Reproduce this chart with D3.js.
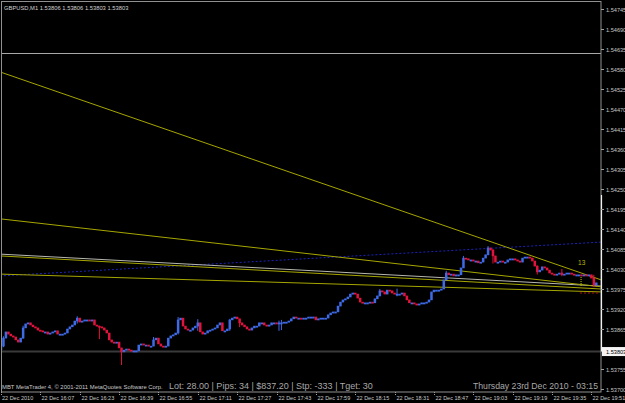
<!DOCTYPE html>
<html><head><meta charset="utf-8">
<script src="https://cdn.jsdelivr.net/npm/d3@7"></script>
<style>html,body{margin:0;padding:0;background:#000;overflow:hidden}</style>
</head><body><svg id="c" width="625" height="403"></svg>
<script>
// ---------- DATA ----------
const symbolHeader = "GBPUSD,M1  1.53806 1.53806 1.53803 1.53803";
const firstOpen = 1.53808;
const closes = [
1.53818,1.53840,1.53857,1.53851,1.53846,1.53843,1.53835,1.53829,1.53840,1.53868,
1.53879,1.53882,1.53876,1.53871,1.53868,1.53862,1.53860,1.53857,1.53857,1.53851,
1.53854,1.53857,1.53860,1.53851,1.53851,1.53851,1.53854,1.53865,1.53871,1.53876,
1.53887,1.53895,1.53884,1.53887,1.53890,1.53890,1.53887,1.53890,1.53876,1.53873,
1.53871,1.53868,1.53862,1.53854,1.53835,1.53829,1.53827,1.53829,1.53813,1.53802,
1.53807,1.53810,1.53807,1.53805,1.53805,1.53805,1.53821,1.53824,1.53821,1.53821,
1.53818,1.53818,1.53835,1.53840,1.53824,1.53818,1.53816,1.53818,1.53840,1.53846,
1.53849,1.53854,1.53890,1.53895,1.53873,1.53865,1.53862,1.53862,1.53868,1.53873,
1.53882,1.53857,1.53851,1.53854,1.53860,1.53862,1.53865,1.53868,1.53876,1.53882,
1.53860,1.53860,1.53865,1.53890,1.53895,1.53898,1.53893,1.53882,1.53876,1.53871,
1.53865,1.53862,1.53868,1.53873,1.53873,1.53882,1.53882,1.53876,1.53873,1.53876,
1.53882,1.53882,1.53879,1.53882,1.53882,1.53884,1.53884,1.53887,1.53893,1.53898,
1.53895,1.53895,1.53893,1.53895,1.53895,1.53898,1.53898,1.53898,1.53890,1.53893,
1.53895,1.53895,1.53895,1.53904,1.53909,1.53912,1.53912,1.53928,1.53939,1.53945,
1.53948,1.53953,1.53961,1.53964,1.53961,1.53950,1.53939,1.53937,1.53937,1.53937,
1.53939,1.53937,1.53948,1.53956,1.53970,1.53967,1.53961,1.53972,1.53970,1.53964,
1.53961,1.53961,1.53961,1.53964,1.53956,1.53945,1.53937,1.53937,1.53934,1.53931,
1.53934,1.53937,1.53937,1.53939,1.53945,1.53967,1.53972,1.53972,1.53972,1.53975,
1.54000,1.54019,1.54014,1.54016,1.54011,1.54014,1.54014,1.54033,1.54060,1.54058,
1.54055,1.54055,1.54052,1.54052,1.54047,1.54049,1.54060,1.54069,1.54088,1.54082,
1.54066,1.54049,1.54049,1.54052,1.54049,1.54049,1.54055,1.54058,1.54058,1.54055,
1.54052,1.54049,1.54060,1.54063,1.54063,1.54060,1.54052,1.54038,1.54022,1.54027,
1.54036,1.54033,1.54027,1.54019,1.54016,1.54014,1.54016,1.54019,1.54014,1.54016,
1.54019,1.54019,1.54016,1.54014,1.54014,1.54014,1.54011,1.54014,1.54011,1.54014,
1.54005,1.53986,1.53992
];
// bars with visible wicks: [bar index, high, low]
const wicks = [
  [1,1.53845,1.53815],[9,1.53874,1.53838],[31,1.53900,1.53880],[40,1.53874,1.53837],
  [49,1.53810,1.53766],[62,1.53843,1.53830],[72,1.53898,1.53850],[80,1.53892,1.53860],
  [93,1.53893,1.53860],[97,1.53890,1.53870],[113,1.53888,1.53860],[114,1.53890,1.53862],
  [154,1.53975,1.53955],[161,1.53976,1.53955],[181,1.54025,1.54000],[188,1.54066,1.54035],
  [198,1.54093,1.54068],[200,1.54085,1.54045],[218,1.54040,1.54015],[228,1.54030,1.54010],
  [241,1.54014,1.53980]
];
const timeTickIdx = [0,16,32,48,64,80,96,112,128,144,160,176,192,208,224,240];
const timeLabels = ["22 Dec 2010","22 Dec 16:07","22 Dec 16:23","22 Dec 16:39","22 Dec 16:55",
  "22 Dec 17:11","22 Dec 17:27","22 Dec 17:43","22 Dec 17:59","22 Dec 18:15","22 Dec 18:31",
  "22 Dec 18:47","22 Dec 19:03","22 Dec 19:19","22 Dec 19:35","22 Dec 19:51"];
const priceTicks = [1.53700,1.53755,1.53865,1.53920,1.53975,1.54030,1.54085,1.54140,1.54195,
  1.54250,1.54305,1.54360,1.54415,1.54470,1.54525,1.54580,1.54635,1.54690,1.54745];
const bidPrice = 1.53803;
const topLevel = 1.54624;
// trend lines: [startIdx, startPrice, endIdx, endPrice]
const yellowLines = [
  [-0.4,1.54572,244,1.54000],
  [-0.4,1.54168,244,1.53981],
  [-0.4,1.54066,244,1.53975],
  [-0.4,1.54016,244,1.53967]
];
const grayLines = [[-0.4,1.54071,244,1.53983]];
const blueDotted = [-0.4,1.54011,244,1.54104];
const redDotted = [235.4,1.53964,242.7,1.53964];
const measure = {idx:235.8, top:1.54008, bottom:1.53981, label:"13"};
const footerCopy = "MBT MetaTrader 4, \u00A9 2001-2011 MetaQuotes Software Corp.";
const footerStats = "Lot: 28.00 | Pips: 34 | $837.20 | Stp: -333 | Tget: 30";
const footerDate = "Thursday 23rd Dec 2010 - 03:15";

// ---------- CHART ----------
const W=625,H=403, L=2, R=601, T=2, B=392;
const svg=d3.select("#c");
svg.append("rect").attr("width",W).attr("height",H).attr("fill","#000");
const x=d3.scaleLinear().domain([0,242]).range([1,596.3]);
const y=d3.scaleLinear().domain([1.53700,1.54745]).range([389,9]);

svg.append("clipPath").attr("id","plot").append("rect").attr("x",L).attr("y",T).attr("width",R-L).attr("height",B-T);
const g=svg.append("g").attr("clip-path","url(#plot)");

// horizontal levels
g.append("line").attr("x1",L).attr("x2",R).attr("y1",Math.round(y(topLevel))+0.5).attr("y2",Math.round(y(topLevel))+0.5)
  .attr("stroke","#a8a8a8").attr("stroke-width",1);
g.append("line").attr("x1",L).attr("x2",R).attr("y1",y(bidPrice)).attr("y2",y(bidPrice))
  .attr("stroke","#3a3a3a").attr("stroke-width",2);

// blue dotted
g.append("line").attr("x1",x(blueDotted[0])).attr("y1",y(blueDotted[1])).attr("x2",x(blueDotted[2])).attr("y2",y(blueDotted[3]))
  .attr("stroke","#1c22b8").attr("stroke-width",1).attr("stroke-dasharray","2,2");

// trend lines
grayLines.forEach(l=>g.append("line").attr("x1",x(l[0])).attr("y1",y(l[1])).attr("x2",x(l[2])).attr("y2",y(l[3]))
  .attr("stroke","#b8b8b0").attr("stroke-width",1));
yellowLines.forEach(l=>g.append("line").attr("x1",x(l[0])).attr("y1",y(l[1])).attr("x2",x(l[2])).attr("y2",y(l[3]))
  .attr("stroke","#a6a600").attr("stroke-width",1));

// candles
const bars=closes.map((c,i)=>{
  const o = i===0?firstOpen:closes[i-1];
  let hi=Math.max(o,c), lo=Math.min(o,c);
  const w=wicks.find(d=>d[0]===i);
  if(w){hi=Math.max(hi,w[1]);lo=Math.min(lo,w[2]);}
  return {i,o,c,hi,lo};
});
const bull="#3f6ae6", bear="#e0143c";
const cg=g.append("g");
cg.selectAll("line.w").data(bars).join("line").attr("class","w")
  .attr("x1",d=>x(d.i)).attr("x2",d=>x(d.i))
  .attr("y1",d=>y(d.hi)).attr("y2",d=>y(d.lo))
  .attr("stroke",d=>d.c>=d.o?bull:bear).attr("stroke-width",1);
cg.selectAll("rect.b").data(bars).join("rect").attr("class","b")
  .attr("x",d=>x(d.i)-1.25).attr("width",2.5)
  .attr("y",d=>y(Math.max(d.o,d.c))-0.3).attr("height",d=>Math.max(1.8,Math.abs(y(d.o)-y(d.c))+0.6))
  .attr("fill",d=>d.c>=d.o?bull:bear);

// red dotted & measure
g.append("line").attr("x1",x(redDotted[0])).attr("y1",y(redDotted[1])).attr("x2",x(redDotted[2])).attr("y2",y(redDotted[3]))
  .attr("stroke","#b01010").attr("stroke-dasharray","2,2");
g.append("line").attr("x1",x(measure.idx)).attr("x2",x(measure.idx)).attr("y1",y(measure.top)).attr("y2",y(measure.bottom))
  .attr("stroke","#c8c800").attr("stroke-dasharray","1,1");
g.append("text").attr("x",x(measure.idx)-3).attr("y",y(measure.top)-12).text(measure.label)
  .attr("fill","#b8b800").attr("font-family","Liberation Sans, Arial, sans-serif").attr("font-size","6.5px");

// frame
svg.append("rect").attr("x",1.5).attr("y",1.5).attr("width",R-1.5).attr("height",B-1.5)
  .attr("fill","none").attr("stroke","#909090").attr("stroke-width",1);
svg.append("line").attr("x1",R+0.5).attr("x2",R+0.5).attr("y1",195).attr("y2",y(bidPrice))
  .attr("stroke","#f0f0f0").attr("stroke-width",1.2);

const font="Liberation Sans, Arial, sans-serif";
// header
svg.append("text").attr("x",4).attr("y",10).text(symbolHeader)
  .attr("fill","#d0d0d0").attr("font-family",font).attr("font-size","5.8px");

// y axis
const yAxis=svg.append("g");
priceTicks.forEach(p=>{
  const yy=Math.round(y(p))+0.5;
  yAxis.append("line").attr("x1",R).attr("x2",R+3).attr("y1",yy).attr("y2",yy).attr("stroke","#a0a0a0");
  yAxis.append("text").attr("x",R+5).attr("y",yy+2).text(p.toFixed(5))
    .attr("fill","#c8c8c8").attr("font-family",font).attr("font-size","5.6px");
});
// bid label
const by=y(bidPrice);
svg.append("rect").attr("x",R+1).attr("y",by-4.5).attr("width",W-R).attr("height",9).attr("fill","#f4f4f4");
svg.append("text").attr("x",R+5).attr("y",by+2).text(bidPrice.toFixed(5))
  .attr("fill","#000").attr("font-family",font).attr("font-size","5.6px");

// x axis
timeTickIdx.forEach((t,k)=>{
  const xx=Math.round(x(t))+0.5;
  svg.append("line").attr("x1",xx).attr("x2",xx).attr("y1",B).attr("y2",B+4).attr("stroke","#a0a0a0").attr("stroke-dasharray","1,1");
  svg.append("text").attr("x",k===0?2:xx+1).attr("y",400).text(timeLabels[k])
    .attr("fill","#c8c8c8").attr("font-family",font).attr("font-size","5.5px");
});

// footer texts
svg.append("text").attr("x",2).attr("y",389).text(footerCopy)
  .attr("fill","#c8c8c8").attr("font-family",font).attr("font-size","5.9px");
svg.append("text").attr("x",169).attr("y",389).text(footerStats)
  .attr("fill","#a8a8a8").attr("font-family",font).attr("font-size","9px");
svg.append("text").attr("x",598).attr("y",389).attr("text-anchor","end").text(footerDate)
  .attr("fill","#a8a8a8").attr("font-family",font).attr("font-size","8.7px");
</script></body></html>
